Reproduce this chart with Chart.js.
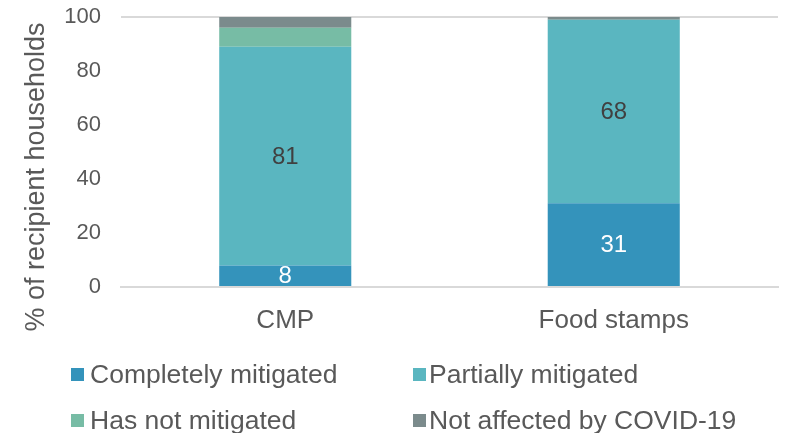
<!DOCTYPE html>
<html>
<head>
<meta charset="utf-8">
<script src="https://cdn.jsdelivr.net/npm/chart.js@4"></script>
<style>
  html, body { margin: 0; padding: 0; background: #ffffff; }
  #wrap { position: relative; width: 788px; height: 433px; overflow: hidden; }
  #chart { position: absolute; left: 0; top: 0; }
  .lg-box { position: absolute; width: 13px; height: 13px; }
  .lg-text {
    position: absolute; white-space: nowrap;
    font-family: "Liberation Sans", Arial, sans-serif; font-size: 26.5px; line-height: 26px;
    color: #595959;
  }
</style>
</head>
<body>
<div id="wrap">
  <canvas id="chart" width="788" height="433"></canvas>
</div>
<script>
// Programmes compared
const categories = ["CMP", "Food stamps"];

// Share of recipient households (%) by mitigation status
const completelyMitigated = [8, 31];
const partiallyMitigated = [81, 68];
const hasNotMitigated = [7, 0];
const notAffected = [4, 1];

const seriesNames = ["Completely mitigated", "Partially mitigated", "Has not mitigated", "Not affected by COVID-19"];
const seriesColors = ["#3493bb", "#5ab6c0", "#77bca5", "#7b8b8c"];
const yTicks = [0, 20, 40, 60, 80, 100];
const yTitle = "% of recipient households";

const FONT = '"Liberation Sans", Arial, sans-serif';

// Value labels drawn inside the first two segments of each bar
const labelColors = ["#ffffff", "#404040", null, null];
const segmentLabels = {
  id: "segmentLabels",
  afterDatasetsDraw(chart) {
    const ctx = chart.ctx;
    ctx.save();
    ctx.font = "24px " + FONT;
    ctx.textAlign = "center";
    ctx.textBaseline = "middle";
    chart.data.datasets.forEach((ds, i) => {
      if (!labelColors[i]) return;
      const meta = chart.getDatasetMeta(i);
      meta.data.forEach((bar, j) => {
        const v = ds.data[j];
        if (!v) return;
        const mid = (bar.y + bar.base) / 2;
        ctx.fillStyle = labelColors[i];
        ctx.fillText(String(v), bar.x, mid + 1);
      });
    });
    ctx.restore();
  }
};

// Vertical axis title, centred on the plot plus its category labels
const axisTitle = {
  id: "axisTitle",
  afterDraw(chart) {
    const ctx = chart.ctx;
    const area = chart.chartArea;
    ctx.save();
    ctx.font = "27px " + FONT;
    ctx.fillStyle = "#595959";
    ctx.textAlign = "center";
    ctx.textBaseline = "middle";
    ctx.translate(37, (area.top + chart.scales.x.bottom) / 2 - 5);
    ctx.rotate(-Math.PI / 2);
    ctx.fillText(yTitle, 0, 0);
    ctx.restore();
  }
};

const datasets = [completelyMitigated, partiallyMitigated, hasNotMitigated, notAffected].map((d, i) => ({
  label: seriesNames[i],
  data: d,
  backgroundColor: seriesColors[i],
  borderWidth: 0,
  categoryPercentage: 1,
  barPercentage: 0.402
}));

const chart = new Chart(document.getElementById("chart"), {
  type: "bar",
  data: { labels: categories, datasets },
  options: {
    responsive: false,
    animation: false,
    layout: { padding: { left: 0, right: 10, top: 17, bottom: 86 } },
    plugins: { legend: { display: false }, tooltip: { enabled: false } },
    scales: {
      x: {
        stacked: true,
        grid: { display: false, drawTicks: false },
        border: { display: true, color: "#d9d9d9", width: 2 },
        ticks: { color: "#595959", font: { family: FONT, size: 26 }, padding: 18 },
        afterFit: s => { s.height = 60; }
      },
      y: {
        stacked: true,
        min: 0, max: 100,
        afterBuildTicks: s => { s.ticks = yTicks.map(v => ({ value: v })); },
        grid: {
          drawTicks: false,
          lineWidth: 2,
          color: c => (c.tick && c.tick.value === 100 ? "#d9d9d9" : "rgba(0,0,0,0)")
        },
        border: { display: false },
        ticks: { color: "#595959", font: { family: FONT, size: 22 }, padding: 20 },
        afterFit: s => { s.width = 121; s.paddingTop = 0; s.paddingBottom = 0; }
      }
    }
  },
  plugins: [segmentLabels, axisTitle]
});

// Two-column legend below the plot
const wrap = document.getElementById("wrap");
const legendPos = [
  { bx: 71, tx: 90, by: 368, ty: 360.5 },
  { bx: 413, tx: 429, by: 368, ty: 360.5 },
  { bx: 71, tx: 90, by: 414, ty: 406.5 },
  { bx: 413, tx: 429, by: 414, ty: 406.5 }
];
seriesNames.forEach((name, i) => {
  const p = legendPos[i];
  const box = document.createElement("div");
  box.className = "lg-box";
  box.style.left = p.bx + "px";
  box.style.top = p.by + "px";
  box.style.background = seriesColors[i];
  wrap.appendChild(box);
  const t = document.createElement("div");
  t.className = "lg-text";
  t.style.left = p.tx + "px";
  t.style.top = p.ty + "px";
  t.textContent = name;
  wrap.appendChild(t);
});
</script>
</body>
</html>
